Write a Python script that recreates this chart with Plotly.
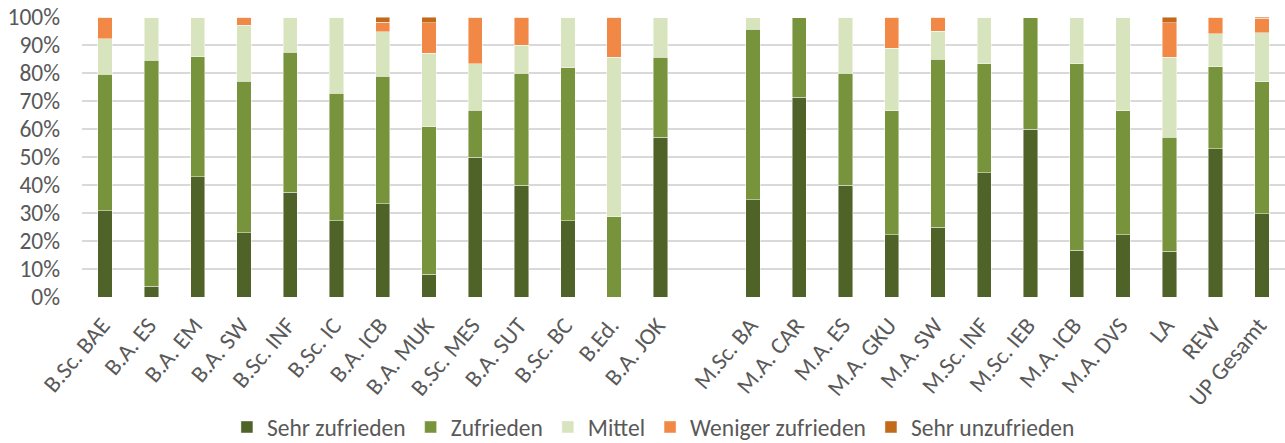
import plotly.graph_objects as go

bachelor = ["B.Sc. BAE", "B.A. ES", "B.A. EM", "B.A. SW", "B.Sc. INF", "B.Sc. IC",
            "B.A. ICB", "B.A. MUK", "B.Sc. MES", "B.A. SUT", "B.Sc. BC", "B.Ed.", "B.A. JOK"]
master = ["M.Sc. BA", "M.A. CAR", "M.A. ES", "M.A. GKU", "M.A. SW", "M.Sc. INF",
          "M.Sc. IEB", "M.A. ICB", "M.A. DVS", "LA", "REW", "UP Gesamt"]

# percentages per category (bachelor then master)
sehr_zufrieden = [30.8, 3.8, 42.9, 22.9, 37.5, 27.3, 33.3, 8.2, 50.0, 40.0, 27.3, 0.0, 57.1,
                  34.8, 71.4, 40.0, 22.2, 25.0, 44.4, 60.0, 16.7, 22.2, 16.3, 52.9, 29.7]
zufrieden = [48.7, 80.8, 42.9, 54.2, 50.0, 45.4, 45.6, 52.6, 16.7, 40.0, 54.5, 28.6, 28.6,
             60.9, 28.6, 40.0, 44.4, 60.0, 38.9, 40.0, 66.6, 44.4, 40.8, 29.4, 47.1]
mittel = [12.8, 15.4, 14.2, 20.0, 12.5, 27.3, 15.8, 26.3, 16.6, 10.0, 18.2, 57.1, 14.3,
          4.3, 0.0, 20.0, 22.3, 10.0, 16.7, 0.0, 16.7, 33.4, 28.6, 11.8, 17.6]
weniger_zufrieden = [7.7, 0.0, 0.0, 2.9, 0.0, 0.0, 3.5, 10.8, 16.7, 10.0, 0.0, 14.3, 0.0,
                     0.0, 0.0, 0.0, 11.1, 5.0, 0.0, 0.0, 0.0, 0.0, 12.3, 5.9, 5.1]
sehr_unzufrieden = [0.0, 0.0, 0.0, 0.0, 0.0, 0.0, 1.8, 2.1, 0.0, 0.0, 0.0, 0.0, 0.0,
                    0.0, 0.0, 0.0, 0.0, 0.0, 0.0, 0.0, 0.0, 0.0, 2.0, 0.0, 0.5]

series = [
    ("Sehr zufrieden", sehr_zufrieden, "#4F6228"),
    ("Zufrieden", zufrieden, "#77933C"),
    ("Mittel", mittel, "#D7E4BD"),
    ("Weniger zufrieden", weniger_zufrieden, "#F18845"),
    ("Sehr unzufrieden", sehr_unzufrieden, "#C2691A"),
]

labels = bachelor + master
# one empty slot between bachelor and master programmes
positions = list(range(len(bachelor))) + [len(bachelor) + 1 + i for i in range(len(master))]

FONT = "Carlito, Lato, sans-serif"
TXT = "#595959"
FS = 23.5

fig = go.Figure()
for name, vals, col in series:
    fig.add_trace(go.Bar(
        x=positions, y=vals, name=name, width=0.31,
        marker=dict(color=col, line=dict(color="rgba(255,255,255,0.6)", width=0.75)),
    ))

fig.update_layout(
    barmode="stack",
    width=1285, height=443,
    margin=dict(l=82, r=0, t=17, b=146, autoexpand=False),
    paper_bgcolor="white", plot_bgcolor="white",
    font=dict(family=FONT, size=FS, color=TXT),
    showlegend=True,
    legend=dict(orientation="h", x=0.475, xanchor="center", y=-0.465, yanchor="middle",
                font=dict(family=FONT, size=FS, color=TXT), traceorder="normal",
                itemclick=False),
    bargap=0.69,
)
fig.update_xaxes(
    range=[-0.5, len(bachelor) + len(master) + 0.5],
    tickmode="array", tickvals=positions, ticktext=labels,
    tickangle=-50, showgrid=False, zeroline=False, showline=False, ticks="",
    automargin=False, ticklabelstandoff=9, ticklabelshift=-3,
    tickfont=dict(family=FONT, size=FS, color=TXT),
)
fig.update_yaxes(
    range=[0, 100], dtick=10, ticksuffix="%", showgrid=True, gridcolor="#D9D9D9",
    gridwidth=1.5, zeroline=False, showline=False, ticks="",
    ticklabelstandoff=21, automargin=False,
    tickfont=dict(family=FONT, size=FS, color=TXT),
)

fig.write_html(
    "out.html",
    config={"displayModeBar": False},
    post_script="document.body.style.margin='0';document.body.style.overflow='hidden';",
)
